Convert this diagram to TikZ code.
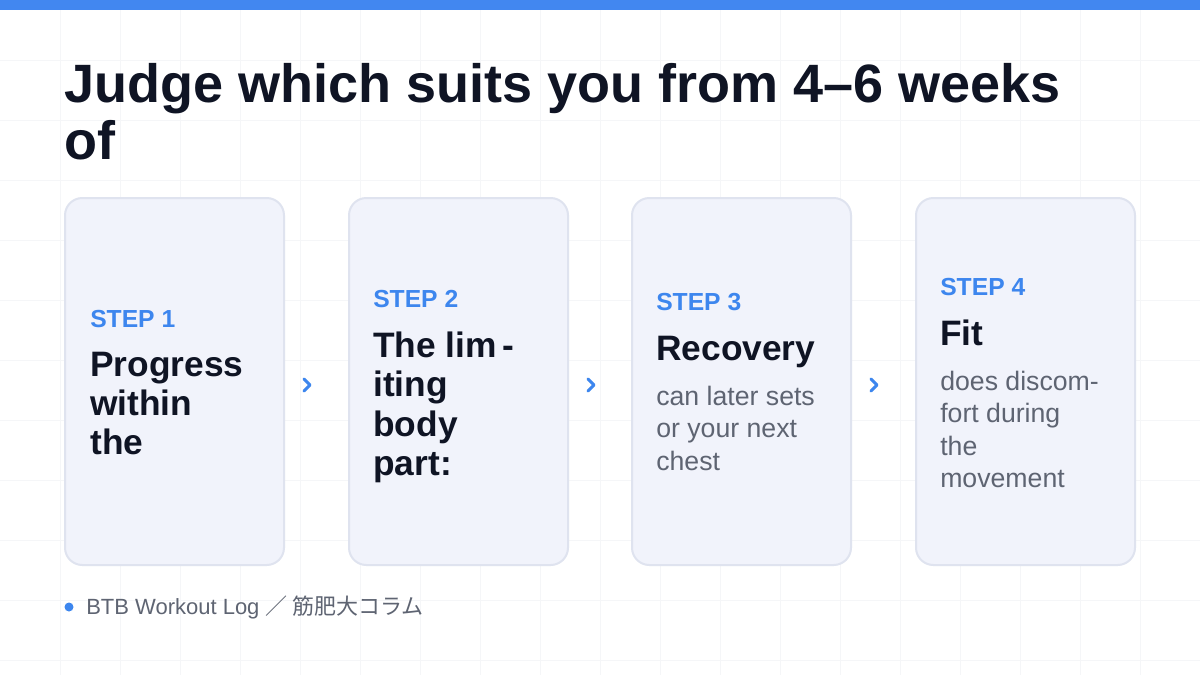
\documentclass[tikz,border=0pt]{standalone}
\usepackage{fontspec}
\setmainfont{Liberation Sans}
\newfontfamily\cjk{Noto Sans CJK JP}
\definecolor{bluebar}{HTML}{4287F0}
\definecolor{ink}{HTML}{0F1424}
\definecolor{stepblue}{HTML}{3D86EE}
\definecolor{cardfill}{HTML}{F1F3FB}
\definecolor{cardline}{HTML}{DFE3EF}
\definecolor{bodygray}{HTML}{5E6472}
\definecolor{gridc}{HTML}{F5F6F8}
\begin{document}
\begin{tikzpicture}[x=0.75pt,y=-0.75pt,
  card/.style={draw=cardline,line width=1.5pt,fill=cardfill,rounded corners=13pt},
  steplbl/.style={anchor=base west,inner sep=0pt,text=stepblue,font=\fontsize{18.5}{20}\selectfont\bfseries},
  head/.style={anchor=north west,text=ink,font=\fontsize{26.5}{29.3}\selectfont\bfseries,align=left,inner sep=0pt},
  body/.style={anchor=north west,text=bodygray,font=\fontsize{20}{24.2}\selectfont,align=left,inner sep=0pt},
  chev/.style={draw=stepblue,line width=2.2pt,line cap=round,line join=round}]
\useasboundingbox (0,0) rectangle (1200,675);
\fill[white] (0,0) rectangle (1200,675);
\foreach \x in {60,120,...,1140} \draw[gridc,line width=0.6pt] (\x,10) -- (\x,675);
\foreach \y in {60,120,...,660} \draw[gridc,line width=0.6pt] (0,\y) -- (1200,\y);
\fill[bluebar] (0,0) rectangle (1200,10);
\node[anchor=north west,inner sep=0pt,text=ink,font=\fontsize{40.5}{43}\selectfont\bfseries,align=left] (title) at (64,63) {Judge which suits you from 4–6 weeks\\of};
\foreach \i/\x in {1/65,2/349,3/632,4/916} \draw[card] (\x,198) rectangle ++(219,367) coordinate (c\i);
\node[steplbl] (s1) at (90,327) {STEP 1};
\node[head] (h1) at (90,352) {Progress\\within\\the};
\node[steplbl] (s2) at (373,307) {STEP 2};
\node[head] (h2) at (373,332) {The lim\,-\\iting\\body\\part:};
\node[steplbl] (s3) at (656,310) {STEP 3};
\node[head] (h3) at (656,336) {Recovery};
\node[body] (b3) at (656,386) {can later sets\\or your next\\chest};
\node[steplbl] (s4) at (940,295) {STEP 4};
\node[head] (h4) at (940,320) {Fit};
\node[body] (b4) at (940,371) {does discom-\\fort during\\the\\movement};
\foreach \x in {304,588,871} \draw[chev] (\x,379) -- (\x+6,385) -- (\x,391);
\fill[stepblue] (69,607) circle (4.5);
\node[anchor=west,text=bodygray,font=\fontsize{16.5}{18}\selectfont,inner sep=0pt] (foot) at (86,607) {BTB Workout Log {\cjk ／ 筋肥大コラム}};
\end{tikzpicture}
\end{document}
